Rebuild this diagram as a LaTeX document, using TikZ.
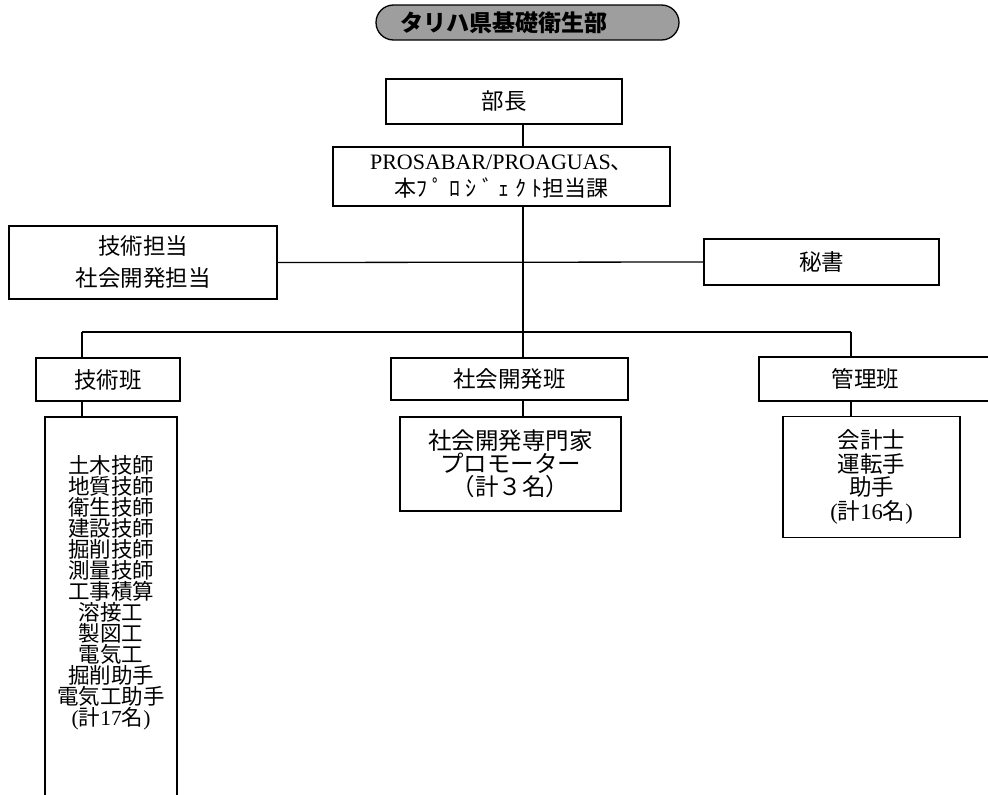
\documentclass[tikz,border=0pt]{standalone}
\usepackage{fontspec}
\setmainfont{Noto Sans CJK JP}
\newfontfamily\serif{Liberation Serif}
\usetikzlibrary{shapes.misc}
\begin{document}
\begin{tikzpicture}[x=1pt,y=-1pt,
  box/.style={draw, line width=1.3pt, inner sep=0pt, align=center, font=\fontsize{22.5}{26}\selectfont},
  titlebox/.style={rounded rectangle, draw, line width=1.3pt, fill=black!38, inner sep=0pt, font=\fontsize{23}{26}\selectfont\bfseries},
  conn/.style={line width=1.3pt}]
\useasboundingbox (0,0) rectangle (988,795);

\node[titlebox, minimum width=303pt, minimum height=35pt] (title) at (527.5,22.5) {タリハ県基礎衛生部\hspace*{48pt}};

\node[box, minimum width=236pt, minimum height=45pt] (bucho) at (504,101.5) {部長};
\node[box, minimum width=337pt, minimum height=59pt, font=\fontsize{22}{27}\selectfont] (pro) at (501.5,176.5)
  {{\serif PROSABAR/PROAGUAS}、\\本{\addfontfeatures{LetterSpace=25}ﾌﾟﾛｼﾞｪｸﾄ}担当課};

\node[box, minimum width=268pt, minimum height=73pt, font=\fontsize{22.5}{32}\selectfont] (tanto) at (143,262.5) {技術担当\\社会開発担当};
\node[box, minimum width=235pt, minimum height=46pt] (hisho) at (821.5,262) {秘書};

\node[box, minimum width=144pt, minimum height=43pt] (ghan) at (108,379.5) {技術班};
\node[box, minimum width=237pt, minimum height=42pt] (shan) at (509.5,379) {社会開発班};
\node[box, minimum width=237pt, minimum height=44pt] (khan) at (877.5,379) {管理班\hspace*{24pt}};

\node[box, minimum width=132pt, minimum height=383pt] (glist) at (111,608.5) {};
\node[align=center, inner sep=0pt, font=\fontsize{21.5}{21}\selectfont] (glisttext) at (111,592.5)
  {土木技師\\地質技師\\衛生技師\\建設技師\\掘削技師\\測量技師\\工事積算\\溶接工\\製図工\\電気工\\掘削助手\\電気工助手\\{\serif(}計{\serif 17}名{\serif)}};

\node[box, minimum width=221pt, minimum height=94pt, font=\fontsize{23.5}{23}\selectfont] (sdev) at (510.5,464)
  {社会開発専門家\\プロモーター\\（計３名）};
\node[box, minimum width=177pt, minimum height=121pt, font=\fontsize{22.5}{23.5}\selectfont] (kaikei) at (871.5,477)
  {会計士\\運転手\\助手\\{\serif(}計{\serif 16}名{\serif)}};

\coordinate (busL) at (82,332);
\coordinate (busM) at (523,332);
\coordinate (busR) at (851,332);

\draw[conn] (bucho.south -| busM) -- (pro.north -| busM);
\draw[conn] (pro.south -| busM) -- (busM);
\draw[conn] (tanto.east) -- (hisho.west);
\draw[conn] (busL) -- (busR);
\draw[conn] (busL) -- (ghan.north -| busL);
\draw[conn] (busM) -- (shan.north -| busM);
\draw[conn] (busR) -- (khan.north -| busR);
\draw[conn] (ghan.south -| busL) -- (glist.north -| busL);
\draw[conn] (shan.south -| busM) -- (sdev.north -| busM);
\draw[conn] (khan.south -| busR) -- (kaikei.north -| busR);
\end{tikzpicture}
\end{document}
